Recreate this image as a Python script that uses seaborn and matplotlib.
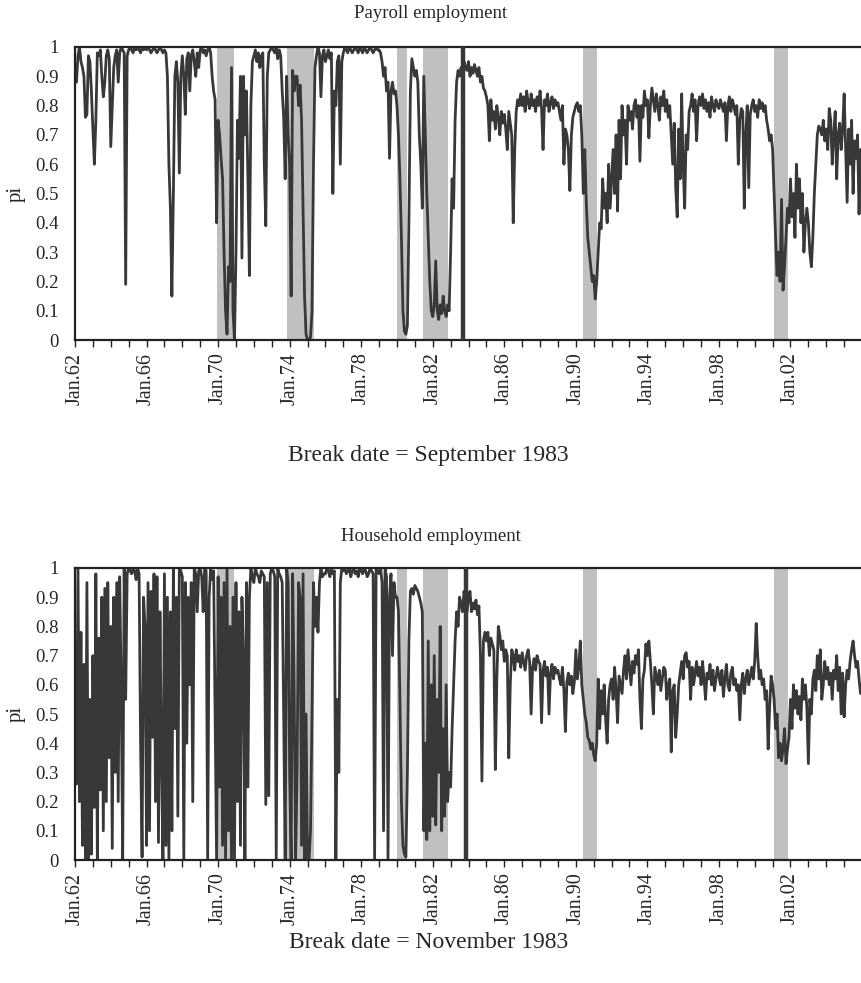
import numpy as np
import pandas as pd
import matplotlib
matplotlib.use("Agg")
import matplotlib.pyplot as plt
import seaborn as sns

# monthly pi estimates, Jan 1962 .. Dec 2005 (one row = one year, Jan..Dec)
payroll = [
    0.90, 0.88, 0.97, 1.00, 0.95, 0.93, 0.90, 0.76, 0.77, 0.97, 0.95, 0.85,  # 1962
    0.72, 0.60, 0.75, 0.98, 0.97, 0.99, 0.90, 0.83, 0.88, 0.97, 0.99, 0.96,  # 1963
    0.66, 0.80, 0.93, 0.97, 0.99, 0.88, 0.98, 1.00, 0.99, 0.98, 0.19, 0.97,  # 1964
    0.99, 1.00, 0.99, 0.98, 1.00, 0.99, 1.00, 0.99, 0.98, 1.00, 0.99, 1.00,  # 1965
    0.99, 1.00, 0.99, 0.98, 0.99, 1.00, 0.99, 0.98, 0.99, 1.00, 0.99, 0.98,  # 1966
    0.99, 0.98, 0.90, 0.60, 0.45, 0.15, 0.50, 0.90, 0.95, 0.88, 0.57, 0.90,  # 1967
    0.97, 0.90, 0.77, 0.96, 0.98, 0.85, 0.97, 0.99, 0.95, 0.90, 0.98, 0.93,  # 1968
    0.99, 1.00, 0.98, 0.99, 0.97, 0.99, 1.00, 0.98, 0.90, 0.85, 0.82, 0.40,  # 1969
    0.75, 0.70, 0.62, 0.55, 0.30, 0.10, 0.02, 0.25, 0.20, 0.93, 0.10, 0.00,  # 1970
    0.30, 0.75, 0.62, 0.90, 0.28, 0.90, 0.70, 0.85, 0.55, 0.22, 0.80, 0.95,  # 1971
    0.97, 0.99, 0.95, 0.98, 0.93, 0.97, 0.98, 0.60, 0.39, 0.90, 0.98, 0.99,  # 1972
    1.00, 0.99, 0.98, 1.00, 0.96, 0.99, 0.97, 0.85, 0.76, 0.55, 0.90, 0.70,  # 1973
    0.60, 0.15, 0.92, 0.85, 0.90, 0.90, 0.80, 0.87, 0.75, 0.45, 0.15, 0.02,  # 1974
    0.00, 0.00, 0.01, 0.10, 0.60, 0.93, 0.97, 1.00, 0.98, 0.83, 0.97, 0.99,  # 1975
    0.95, 0.97, 0.99, 0.96, 0.98, 0.50, 0.85, 0.80, 0.95, 0.97, 0.60, 0.95,  # 1976
    0.98, 1.00, 0.99, 0.98, 1.00, 0.99, 0.98, 0.99, 1.00, 0.99, 0.98, 1.00,  # 1977
    0.99, 0.98, 1.00, 0.99, 0.98, 0.99, 1.00, 0.99, 0.98, 0.99, 1.00, 0.99,  # 1978
    0.99, 0.98, 0.95, 0.90, 0.93, 0.85, 0.88, 0.62, 0.85, 0.88, 0.84, 0.85,  # 1979
    0.80, 0.70, 0.55, 0.35, 0.10, 0.03, 0.02, 0.05, 0.40, 0.85, 0.96, 0.93,  # 1980
    0.90, 0.92, 0.88, 0.70, 0.60, 0.45, 0.90, 0.70, 0.50, 0.35, 0.20, 0.10,  # 1981
    0.08, 0.12, 0.27, 0.10, 0.07, 0.12, 0.09, 0.15, 0.10, 0.08, 0.12, 0.10,  # 1982
    0.30, 0.55, 0.45, 0.75, 0.88, 0.92, 0.90, 0.93, 0.91, 0.95, 0.93, 0.92,  # 1983
    0.95, 0.90, 0.93, 0.91, 0.94, 0.92, 0.90, 0.93, 0.88, 0.90, 0.86, 0.85,  # 1984
    0.83, 0.80, 0.68, 0.82, 0.75, 0.78, 0.72, 0.80, 0.76, 0.70, 0.78, 0.74,  # 1985
    0.77, 0.72, 0.65, 0.78, 0.74, 0.70, 0.40, 0.65, 0.78, 0.82, 0.80, 0.84,  # 1986
    0.80, 0.83, 0.78, 0.85, 0.81, 0.79, 0.84, 0.80, 0.82, 0.78, 0.83, 0.80,  # 1987
    0.85, 0.79, 0.65, 0.82, 0.80, 0.84, 0.78, 0.81, 0.83, 0.79, 0.82, 0.80,  # 1988
    0.81, 0.78, 0.75, 0.80, 0.60, 0.72, 0.70, 0.65, 0.51, 0.70, 0.76, 0.78,  # 1989
    0.80, 0.81, 0.78, 0.80, 0.70, 0.50, 0.65, 0.47, 0.35, 0.30, 0.25, 0.20,  # 1990
    0.22, 0.14, 0.20, 0.30, 0.40, 0.38, 0.55, 0.45, 0.50, 0.40, 0.60, 0.45,  # 1991
    0.55, 0.65, 0.50, 0.70, 0.44, 0.75, 0.55, 0.80, 0.70, 0.75, 0.60, 0.80,  # 1992
    0.75, 0.78, 0.72, 0.80, 0.82, 0.76, 0.80, 0.61, 0.80, 0.76, 0.85, 0.80,  # 1993
    0.82, 0.69, 0.80, 0.86, 0.82, 0.78, 0.84, 0.80, 0.75, 0.83, 0.80, 0.85,  # 1994
    0.78, 0.82, 0.76, 0.80, 0.70, 0.60, 0.74, 0.52, 0.42, 0.72, 0.55, 0.84,  # 1995
    0.60, 0.45, 0.70, 0.65, 0.78, 0.80, 0.84, 0.78, 0.82, 0.68, 0.80, 0.83,  # 1996
    0.80, 0.84, 0.79, 0.82, 0.78, 0.81, 0.76, 0.83, 0.80, 0.78, 0.82, 0.80,  # 1997
    0.79, 0.82, 0.80, 0.78, 0.81, 0.68, 0.80, 0.83, 0.78, 0.82, 0.80, 0.77,  # 1998
    0.80, 0.60, 0.75, 0.79, 0.78, 0.45, 0.70, 0.80, 0.52, 0.77, 0.80, 0.82,  # 1999
    0.78, 0.80, 0.76, 0.82, 0.79, 0.81, 0.78, 0.80, 0.75, 0.72, 0.68, 0.70,  # 2000
    0.65, 0.50, 0.35, 0.22, 0.30, 0.20, 0.48, 0.17, 0.25, 0.35, 0.45, 0.40,  # 2001
    0.55, 0.42, 0.50, 0.35, 0.60, 0.45, 0.55, 0.40, 0.50, 0.30, 0.40, 0.45,  # 2002
    0.40, 0.30, 0.25, 0.35, 0.50, 0.60, 0.70, 0.73, 0.72, 0.70, 0.75, 0.68,  # 2003
    0.72, 0.65, 0.79, 0.75, 0.60, 0.70, 0.78, 0.55, 0.70, 0.74, 0.65, 0.72,  # 2004
    0.84, 0.65, 0.47, 0.72, 0.60, 0.75, 0.50, 0.68, 0.62, 0.70, 0.43, 0.65,  # 2005
]

household = [
    0.74, 0.26, 1.00, 0.20, 0.78, 0.05, 0.67, 0.00, 0.95, 0.00, 0.55, 0.02,  # 1962
    0.70, 0.18, 0.98, 0.00, 0.76, 0.24, 0.90, 0.10, 0.93, 0.20, 0.95, 0.35,  # 1963
    0.80, 0.04, 0.90, 0.30, 0.95, 0.20, 0.97, 0.58, 0.00, 1.00, 0.55, 0.98,  # 1964
    1.00, 0.99, 0.98, 1.00, 0.99, 0.96, 1.00, 0.98, 0.40, 0.01, 0.90, 0.80,  # 1965
    0.05, 0.95, 0.10, 0.92, 0.42, 0.98, 0.20, 0.97, 0.06, 0.85, 0.35, 0.00,  # 1966
    0.98, 0.05, 0.90, 0.00, 0.85, 0.10, 1.00, 0.45, 0.90, 0.15, 1.00, 0.99,  # 1967
    0.97, 0.00, 0.95, 0.40, 0.90, 0.60, 0.95, 0.20, 1.00, 0.98, 0.85, 0.99,  # 1968
    1.00, 0.97, 0.85, 1.00, 0.99, 0.00, 0.90, 1.00, 0.96, 0.99, 0.50, 0.00,  # 1969
    0.97, 0.25, 0.90, 0.05, 0.95, 0.00, 1.00, 0.10, 0.80, 0.00, 0.90, 0.00,  # 1970
    0.95, 0.20, 0.85, 0.05, 0.90, 0.70, 0.00, 0.95, 0.25, 0.90, 1.00, 0.97,  # 1971
    0.95, 1.00, 0.98, 0.97, 0.95, 0.99, 0.98, 0.97, 0.19, 0.95, 0.22, 0.98,  # 1972
    1.00, 0.99, 0.97, 0.00, 1.00, 0.98, 0.97, 0.95, 0.50, 0.00, 1.00, 0.95,  # 1973
    0.30, 0.00, 0.98, 0.60, 0.00, 0.30, 0.95, 0.90, 0.05, 0.98, 0.00, 0.50,  # 1974
    0.00, 0.00, 0.10, 0.50, 0.95, 0.80, 0.90, 0.78, 0.95, 1.00, 0.97, 0.98,  # 1975
    0.98, 1.00, 0.99, 0.97, 1.00, 0.98, 0.99, 0.00, 0.55, 0.30, 0.95, 1.00,  # 1976
    0.99, 1.00, 0.98, 0.99, 1.00, 0.97, 0.99, 1.00, 0.98, 0.99, 0.97, 1.00,  # 1977
    0.99, 0.98, 1.00, 0.99, 0.97, 0.98, 1.00, 0.99, 0.98, 0.00, 1.00, 0.99,  # 1978
    0.98, 1.00, 0.95, 0.10, 1.00, 0.97, 0.00, 0.90, 0.98, 0.70, 0.95, 0.90,  # 1979
    0.90, 0.85, 0.55, 0.20, 0.05, 0.02, 0.01, 0.30, 0.75, 0.92, 0.93, 0.91,  # 1980
    0.94, 0.93, 0.92, 0.90, 0.88, 0.85, 0.10, 0.40, 0.07, 0.75, 0.10, 0.60,  # 1981
    0.15, 0.70, 0.12, 0.55, 0.30, 0.80, 0.10, 0.45, 0.15, 0.60, 0.20, 0.30,  # 1982
    0.25, 0.45, 0.60, 0.75, 0.85, 0.80, 0.90, 0.88, 0.85, 0.92, 0.88, 0.85,  # 1983
    0.90, 0.92, 0.85, 0.88, 0.86, 0.89, 0.84, 0.87, 0.70, 0.27, 0.75, 0.78,  # 1984
    0.75, 0.78, 0.70, 0.76, 0.74, 0.72, 0.31, 0.62, 0.80, 0.77, 0.72, 0.75,  # 1985
    0.68, 0.72, 0.70, 0.35, 0.60, 0.72, 0.70, 0.65, 0.72, 0.68, 0.70, 0.66,  # 1986
    0.71, 0.68, 0.65, 0.70, 0.72, 0.68, 0.50, 0.66, 0.69, 0.65, 0.70, 0.68,  # 1987
    0.67, 0.47, 0.65, 0.68, 0.63, 0.66, 0.50, 0.64, 0.67, 0.62, 0.66, 0.64,  # 1988
    0.65, 0.62, 0.60, 0.66, 0.58, 0.44, 0.61, 0.64, 0.60, 0.63, 0.57, 0.61,  # 1989
    0.72, 0.62, 0.66, 0.75, 0.60, 0.55, 0.50, 0.47, 0.42, 0.41, 0.38, 0.40,  # 1990
    0.36, 0.34, 0.40, 0.62, 0.45, 0.58, 0.50, 0.60, 0.48, 0.40, 0.55, 0.60,  # 1991
    0.62, 0.55, 0.66, 0.58, 0.47, 0.63, 0.60, 0.57, 0.65, 0.70, 0.62, 0.72,  # 1992
    0.66, 0.60, 0.68, 0.64, 0.70, 0.67, 0.72, 0.55, 0.45, 0.62, 0.65, 0.74,  # 1993
    0.70, 0.75, 0.68, 0.60, 0.50, 0.66, 0.63, 0.60, 0.65, 0.58, 0.62, 0.66,  # 1994
    0.65, 0.55, 0.60, 0.62, 0.37, 0.58, 0.60, 0.42, 0.50, 0.60, 0.64, 0.68,  # 1995
    0.62, 0.70, 0.71, 0.66, 0.68, 0.55, 0.66, 0.60, 0.64, 0.68, 0.63, 0.66,  # 1996
    0.60, 0.68, 0.62, 0.55, 0.64, 0.62, 0.67, 0.60, 0.65, 0.58, 0.62, 0.66,  # 1997
    0.63, 0.60, 0.65, 0.56, 0.62, 0.67, 0.60, 0.58, 0.64, 0.66, 0.60, 0.62,  # 1998
    0.58, 0.60, 0.48, 0.60, 0.64, 0.57, 0.62, 0.65, 0.60, 0.63, 0.66, 0.62,  # 1999
    0.68, 0.81, 0.70, 0.62, 0.65, 0.60, 0.62, 0.55, 0.58, 0.38, 0.52, 0.63,  # 2000
    0.60, 0.55, 0.45, 0.50, 0.35, 0.40, 0.34, 0.38, 0.45, 0.33, 0.38, 0.42,  # 2001
    0.55, 0.45, 0.60, 0.52, 0.58, 0.50, 0.56, 0.48, 0.62, 0.55, 0.60, 0.52,  # 2002
    0.33, 0.55, 0.50, 0.62, 0.65, 0.58, 0.70, 0.62, 0.72, 0.55, 0.60, 0.68,  # 2003
    0.62, 0.66, 0.60, 0.64, 0.55, 0.65, 0.62, 0.70, 0.58, 0.66, 0.50, 0.64,  # 2004
    0.49, 0.60, 0.65, 0.62, 0.68, 0.72, 0.75, 0.70, 0.66, 0.68, 0.62, 0.57,  # 2005
]

# recession bands (fractional years) and break dates
rec_start = [1969.92, 1973.84, 1980.00, 1981.48, 1990.39, 2001.09]
rec_end = [1970.91, 1975.38, 1980.55, 1982.88, 1991.21, 2001.84]
break_payroll = 1983 + 8 / 12   # September 1983
break_household = 1983 + 10 / 12  # November 1983

tick_years = list(range(1962, 2003, 4))
tick_labels = ["Jan.%02d" % (y % 100) for y in tick_years]
ytick_vals = [round(v * 0.1, 1) for v in range(11)]
ytick_labels = ["0", "0.1", "0.2", "0.3", "0.4", "0.5", "0.6", "0.7", "0.8", "0.9", "1"]

sns.set_theme(style="white")
plt.rcParams["font.family"] = ["Liberation Serif", "DejaVu Serif"]

t = 1962 + np.arange(len(payroll)) / 12
df = pd.DataFrame({"t": t, "payroll": payroll, "household": household})

line_col = "#383838"
fig = plt.figure(figsize=(8.61, 9.83), dpi=100)

panels = [
    ("payroll", "Payroll employment", "Break date = September 1983", break_payroll,
     [0.0871, 0.6541, 0.9141, 0.2981], 0.986, 0.537),
    ("household", "Household employment", "Break date = November 1983", break_household,
     [0.0871, 0.1251, 0.9141, 0.2971], 0.454, 0.041),
]

for col, title, note, brk, rect, ty, ny in panels:
    ax = fig.add_axes(rect)
    for s, e in zip(rec_start, rec_end):
        ax.axvspan(s, e, color="#c0c0c0", lw=0, zorder=0)
    sns.lineplot(data=df, x="t", y=col, ax=ax, color=line_col, lw=2.0, zorder=2)
    ax.axvline(brk, color=line_col, lw=3.2, zorder=3)

    ax.set_xlim(1962, 2006)
    ax.set_ylim(0, 1)
    ax.set_xticks(tick_years)
    ax.set_xticklabels(tick_labels, rotation=90, fontsize=14.5)
    ax.set_xticks(range(1962, 2006), minor=True)
    ax.set_yticks(ytick_vals)
    ax.set_yticklabels(ytick_labels, fontsize=13.5)
    ax.tick_params(axis="x", which="both", direction="out", length=5, width=1,
                   bottom=True, color="#222222", pad=4)
    ax.tick_params(axis="y", length=0, pad=12)
    ax.set_xlabel("")
    ax.set_ylabel("")
    for side in ["left", "bottom", "top"]:
        ax.spines[side].set_color("#222222")
        ax.spines[side].set_linewidth(1.6)
    ax.spines["right"].set_visible(False)
    ax.grid(False)

    fig.text(0.019, rect[1] + rect[3] / 2, "pi", rotation=90, fontsize=15,
             ha="center", va="center")
    fig.text(0.5, ty, title, fontsize=13.5, ha="center", va="center")
    fig.text(0.498, ny, note, fontsize=17, ha="center", va="center")

fig.savefig("out.png", dpi=100)
